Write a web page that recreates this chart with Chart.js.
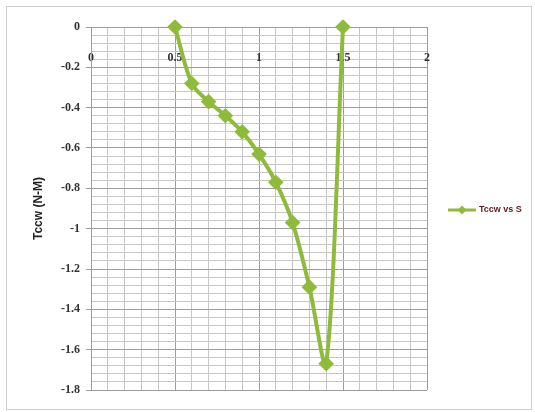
<!DOCTYPE html>
<html>
<head>
<meta charset="utf-8">
<script src="https://cdn.jsdelivr.net/npm/chart.js@4"></script>
<style>
  html, body { margin: 0; padding: 0; background: #ffffff; }
  #wrap { width: 535px; height: 412px; }
</style>
</head>
<body>
<div id="wrap"><canvas id="c" width="535" height="412"></canvas></div>
<script>
// ---- data ----
const seriesLabel = 'Tccw vs S';
const sValues = [0.5, 0.6, 0.7, 0.8, 0.9, 1.0, 1.1, 1.2, 1.3, 1.4, 1.5];
const tccwValues = [0, -0.28, -0.37, -0.44, -0.52, -0.63, -0.77, -0.97, -1.29, -1.67, 0];
const xTickLabels = ['0', '0.5', '1', '1.5', '2'];
const yTickLabels = ['0', '-0.2', '-0.4', '-0.6', '-0.8', '-1', '-1.2', '-1.4', '-1.6', '-1.8'];
const yAxisTitle = 'Tccw (N-M)';

const lineColor = '#8fbb3c';
const points = sValues.map((s, i) => ({ x: s, y: tccwValues[i] }));

function isMajor(v, step) {
  const r = Math.round(v * 1000);
  return Math.abs(r) % Math.round(step * 1000) === 0;
}

const frame = {
  id: 'frame',
  beforeDraw(chart) {
    const ctx = chart.ctx;
    ctx.save();
    ctx.fillStyle = '#ffffff';
    ctx.fillRect(0, 0, chart.width, chart.height);
    ctx.strokeStyle = '#cfcfcf';
    ctx.lineWidth = 1;
    ctx.strokeRect(6.5, 6.5, 525, 403);
    ctx.restore();
  },
  afterDraw(chart) {
    const ctx = chart.ctx;
    const ds = chart.data.datasets[0];
    const y = 210, x0 = 448, x1 = 476;
    ctx.save();
    ctx.strokeStyle = lineColor;
    ctx.lineWidth = 3;
    ctx.beginPath(); ctx.moveTo(x0, y); ctx.lineTo(x1, y); ctx.stroke();
    const cx = (x0 + x1) / 2, r = 4.5;
    ctx.fillStyle = lineColor;
    ctx.beginPath();
    ctx.moveTo(cx, y - r); ctx.lineTo(cx + r, y); ctx.lineTo(cx, y + r); ctx.lineTo(cx - r, y);
    ctx.closePath(); ctx.fill();
    ctx.fillStyle = '#5a1e1e';
    ctx.font = 'bold 9px "Liberation Sans", Arial, sans-serif';
    ctx.textBaseline = 'middle';
    ctx.textAlign = 'left';
    ctx.fillText(ds.label, 479, y);
    ctx.restore();
  }
};

new Chart(document.getElementById('c'), {
  type: 'scatter',
  data: {
    datasets: [{
      label: seriesLabel,
      data: points,
      showLine: true,
      borderColor: lineColor,
      backgroundColor: lineColor,
      borderWidth: 4,
      pointStyle: 'rectRot',
      pointRadius: 5,
      pointHoverRadius: 5,
      tension: 0.3,
      clip: false
    }]
  },
  options: {
    responsive: false,
    animation: false,
    devicePixelRatio: 1,
    layout: { padding: { left: 7, top: 27, right: 108, bottom: 22 } },
    plugins: { legend: { display: false }, tooltip: { enabled: false } },
    scales: {
      x: {
        type: 'linear',
        position: { y: 0 },
        min: 0, max: 2,
        afterBuildTicks(scale) {
          const t = [];
          for (let i = 0; i <= 20; i++) t.push({ value: i / 10 });
          scale.ticks = t;
        },
        border: { display: false },
        grid: {
          drawTicks: false,
          color: (c) => isMajor(c.tick.value, 0.5) ? '#9c9c9c' : '#c6c6c6',
          lineWidth: 1
        },
        ticks: {
          autoSkip: false,
          maxRotation: 0,
          padding: 24,
          color: '#333333',
          font: { family: '"Liberation Serif", serif', size: 12, weight: 'bold' },
          callback: (v) => {
            const idx = Math.round(v * 2);
            return isMajor(v, 0.5) ? xTickLabels[idx] : '';
          }
        }
      },
      y: {
        type: 'linear',
        position: 'left',
        min: -1.8, max: 0,
        afterBuildTicks(scale) {
          const t = [];
          for (let i = 0; i <= 45; i++) t.push({ value: -i * 0.04 });
          scale.ticks = t;
        },
        afterFit(scale) { scale.width = 84; },
        border: { display: true, color: '#9c9c9c' },
        grid: {
          tickLength: 5,
          color: (c) => isMajor(c.tick.value, 0.2) ? '#9c9c9c' : '#c6c6c6',
          tickColor: (c) => isMajor(c.tick.value, 0.2) ? '#9c9c9c' : 'rgba(0,0,0,0)',
          lineWidth: 1
        },
        ticks: {
          autoSkip: false,
          padding: 6,
          color: '#333333',
          font: { family: '"Liberation Serif", serif', size: 12, weight: 'bold' },
          callback: (v) => {
            const idx = Math.round(-v * 5);
            return isMajor(v, 0.2) ? yTickLabels[idx] : '';
          }
        },
        title: {
          display: true,
          text: yAxisTitle,
          color: '#222222',
          font: { family: '"Liberation Sans", Arial, sans-serif', size: 12, weight: 'bold' },
          padding: { top: 24, bottom: 0 }
        }
      }
    }
  },
  plugins: [frame]
});
</script>
</body>
</html>
